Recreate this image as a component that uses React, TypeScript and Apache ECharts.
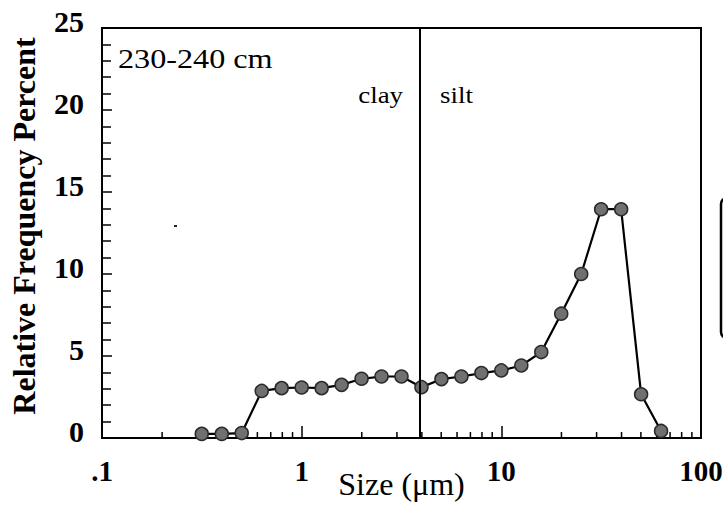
import React, { useEffect, useRef } from "react";
import * as echarts from "echarts";

// Particle size (µm) and relative frequency (%)
const sizes = [0.316, 0.398, 0.501, 0.631, 0.794, 1.0, 1.259, 1.585, 1.995, 2.512, 3.162, 3.981, 5.012, 6.31, 7.943, 10, 12.59, 15.85, 19.95, 25.12, 31.62, 39.81, 50.12, 63.1];
const freq = [0.25, 0.25, 0.3, 2.87, 3.04, 3.08, 3.04, 3.24, 3.61, 3.75, 3.75, 3.1, 3.59, 3.75, 3.96, 4.12, 4.42, 5.24, 7.58, 10.0, 13.95, 13.95, 2.67, 0.43];
const minorTickValues = [0.2, 0.3, 0.4, 0.5, 0.6, 0.7, 0.8, 0.9, 2, 3, 4, 5, 6, 7, 8, 9, 20, 30, 40, 50, 60, 70, 80, 90];
const clayBoundary = 3.9;
const sampleLabel = "230-240 cm";
const xTitle = "Size (μm)";
const yTitle = "Relative Frequency Percent";

const SERIF = "Liberation Serif";

export default function App() {
  const ref = useRef<HTMLDivElement>(null);
  useEffect(() => {
    if (!ref.current) return;
    const chart = echarts.init(ref.current, undefined, { renderer: "svg" });
    chart.setOption({
      animation: false,
      backgroundColor: "#fff",
      grid: {
        left: 102, top: 28, right: 22, bottom: 73,
        containLabel: false, outerBoundsMode: "none",
        show: true, borderColor: "#000", borderWidth: 2, backgroundColor: "transparent",
      },
      xAxis: {
        type: "log",
        logBase: 10,
        min: 0.1,
        max: 100,
        name: xTitle,
        nameLocation: "middle",
        nameGap: 30,
        nameMoveOverlap: false,
        nameTextStyle: { fontFamily: SERIF, fontSize: 32, color: "#000" },
        axisLine: { lineStyle: { color: "#000", width: 2 } },
        axisTick: { inside: true, length: 12, lineStyle: { color: "#000", width: 1.5 } },
        minorTick: { show: false },
        splitLine: { show: false },
        axisLabel: {
          margin: 18,
          fontFamily: SERIF,
          fontSize: 29,
          fontWeight: "bold",
          color: "#000",
          formatter: (v: number) => (v === 0.1 ? ".1" : String(v)),
        },
      },
      yAxis: {
        type: "value",
        min: 0,
        max: 25,
        interval: 5,
        name: yTitle,
        nameLocation: "middle",
        nameGap: 62,
        nameMoveOverlap: false,
        nameTextStyle: { fontFamily: SERIF, fontSize: 32, fontWeight: "bold", color: "#000", padding: [0, 0, 0, 14] },
        axisLine: { show: true, lineStyle: { color: "#000", width: 2 } },
        axisTick: { show: true, inside: true, length: 10, lineStyle: { color: "#000", width: 1.5 } },
        minorTick: { show: true, splitNumber: 5, length: 9, lineStyle: { color: "#000", width: 1.5 } },
        splitLine: { show: false },
        axisLabel: {
          margin: 18,
          fontFamily: SERIF,
          fontSize: 30,
          fontWeight: "bold",
          color: "#000",
          verticalAlign: "bottom",
          lineHeight: 14,
        },
      },
      graphic: [
        { type: "text", x: 118, y: 59, scaleX: 1.15, style: { text: sampleLabel, fontFamily: SERIF, fontSize: 28, fill: "#000", align: "left", verticalAlign: "middle" } },
        { type: "text", x: 403, y: 95, scaleX: 1.12, style: { text: "clay", fontFamily: SERIF, fontSize: 24, fill: "#000", align: "right", verticalAlign: "middle" } },
        { type: "text", x: 440, y: 95, scaleX: 1.12, style: { text: "silt", fontFamily: SERIF, fontSize: 24, fill: "#000", align: "left", verticalAlign: "middle" } },
        { type: "rect", shape: { x: 721, y: 198, width: 40, height: 140, r: 6 }, style: { fill: "none", stroke: "#000", lineWidth: 2.5 } },
        { type: "rect", shape: { x: 174, y: 225, width: 3, height: 2 }, style: { fill: "#222" } },
      ],
      series: [
        {
          type: "custom",
          coordinateSystem: "cartesian2d",
          silent: true,
          z: 1,
          data: minorTickValues.map((v) => [v, 0]),
          encode: { x: 0, y: 1 },
          renderItem: (params: any, api: any) => {
            const p = api.coord([api.value(0), 0]);
            return {
              type: "line",
              shape: { x1: p[0], y1: p[1], x2: p[0], y2: p[1] - 6 },
              style: { stroke: "#000", lineWidth: 1.5 },
            };
          },
        },
        {
          type: "line",
          z: 3,
          data: sizes.map((s, i) => [s, freq[i]]),
          symbol: "circle",
          symbolSize: 13,
          itemStyle: { color: "#707070", borderColor: "#2b2b2b", borderWidth: 1.5 },
          lineStyle: { color: "#000", width: 2.2 },
          markLine: {
            silent: true,
            symbol: "none",
            label: { show: false },
            lineStyle: { color: "#000", width: 2, type: "solid" },
            data: [{ xAxis: clayBoundary }],
          },
        },
      ],
    });
    return () => chart.dispose();
  }, []);
  return <div ref={ref} style={{ width: 723, height: 511, position: "absolute", left: 0, top: 0 }} />;
}
